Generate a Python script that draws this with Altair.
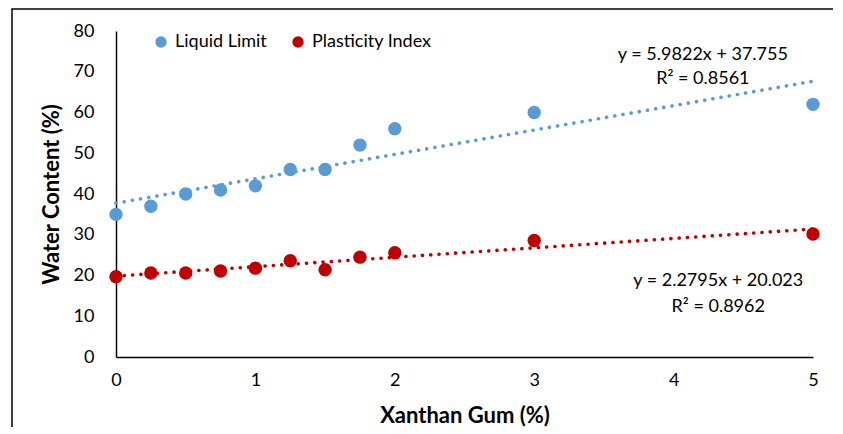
import altair as alt
import pandas as pd

# ---- data ----
xanthan = [0, 0.25, 0.5, 0.75, 1, 1.25, 1.5, 1.75, 2, 3, 5]
liquid_limit = [35, 37, 40, 41, 42, 46, 46, 52, 56, 60, 62]
plasticity_index = [19.7, 20.6, 20.6, 21.1, 21.8, 23.6, 21.4, 24.5, 25.6, 28.6, 30.2]

series_names = ["Liquid Limit", "Plasticity Index"]
series_colors = ["#5B9BD5", "#C00000"]

eq_text = ["y = 5.9822x + 37.755", "R² = 0.8561", "y = 2.2795x + 20.023", "R² = 0.8962"]
eq_x = [4.21, 4.21, 4.32, 4.32]
eq_y = [74.1, 68.2, 18.6, 12.3]

FONT = "Lato"

rows = []
for xv, ll, pi in zip(xanthan, liquid_limit, plasticity_index):
    rows.append({"x": xv, "y": ll, "series": series_names[0]})
    rows.append({"x": xv, "y": pi, "series": series_names[1]})
df = pd.DataFrame(rows)
ann = pd.DataFrame({"t": eq_text, "x": eq_x, "y": eq_y})

W, H = 697, 326

xscale = alt.Scale(domain=[0, 5], nice=False, zero=False)
yscale = alt.Scale(domain=[0, 80], nice=False)
cscale = alt.Scale(domain=series_names, range=series_colors)

base = alt.Chart(df)

points = base.mark_circle(size=180, opacity=1).encode(
    x=alt.X("x:Q", scale=xscale,
            axis=alt.Axis(title="Xanthan Gum (%)", values=[0, 1, 2, 3, 4, 5], format="d",
                          labelFlush=False)),
    y=alt.Y("y:Q", scale=yscale,
            axis=alt.Axis(title="Water Content (%)", values=list(range(0, 81, 10)))),
    color=alt.Color("series:N", scale=cscale,
                    legend=alt.Legend(title=None, orient="none", direction="horizontal",
                                      legendX=36, legendY=2, symbolType="circle",
                                      symbolSize=130, labelFontSize=18, labelFont=FONT,
                                      labelColor="#000000", columnPadding=22,
                                      labelOffset=5, padding=0)),
)

trend_layers = []
for name, col in zip(series_names, series_colors):
    trend_layers.append(
        base.transform_filter(alt.datum.series == name).transform_regression(
            "x", "y", extent=[0, 5], method="linear"
        ).mark_line(strokeDash=[0.1, 8.2], strokeCap="round", strokeWidth=3.6, color=col).encode(
            x=alt.X("x:Q", scale=xscale),
            y=alt.Y("y:Q", scale=yscale),
        )
    )

labels = alt.Chart(ann).mark_text(font=FONT, fontSize=18, color="#000000",
                                  align="center", baseline="middle").encode(
    x=alt.X("x:Q", scale=xscale),
    y=alt.Y("y:Q", scale=yscale),
    text="t:N",
)

frame = alt.Chart(pd.DataFrame({"a": [0]})).mark_rect(
    fill=None, stroke="#000000", strokeWidth=1.5
).encode(
    x=alt.value(-104), x2=alt.value(W + 60),
    y=alt.value(-22), y2=alt.value(H + 120),
)

chart = alt.layer(frame, *trend_layers, points, labels).properties(
    width=W, height=H,
    autosize=alt.AutoSizeParams(type="none"),
    padding={"left": 108, "top": 23, "right": 20, "bottom": 70},
).configure_view(stroke=None).configure_axis(
    grid=False, ticks=False, domainColor="#000000", domainWidth=1.5,
    labelFont=FONT, labelFontSize=18, labelColor="#000000",
    titleFont=FONT, titleFontSize=22, titleFontWeight="bold", titleColor="#000000",
).configure_axisX(labelPadding=14, titlePadding=16).configure_axisY(
    labelPadding=22, titlePadding=10
)

chart.save("out.html", embed_options={"renderer": "svg", "actions": False})
